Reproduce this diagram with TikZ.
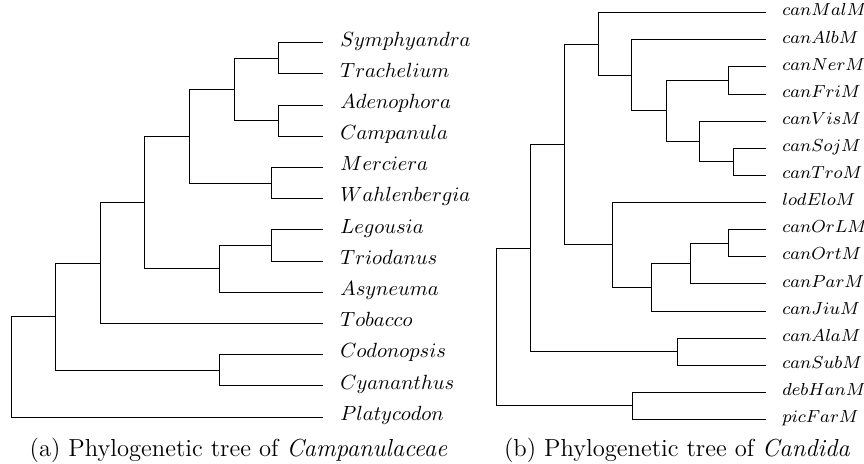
\documentclass[tikz,border=0pt]{standalone}
\DeclareFontShape{OML}{cmm}{m}{it}{<-9>cmmi8 <9-10>cmmi9 <10-12>cmmi10 <12->cmmi12}{}
\begin{document}
\begin{tikzpicture}[x=0.4873pt, y=-0.4873pt,
        leaf/.style={anchor=west, inner xsep=8.3pt, inner ysep=0pt, text height=1ex, text depth=.25ex},
        smallleaf/.style={leaf, inner xsep=7.6pt, font=\fontsize{8.5}{10}\selectfont},
        caption/.style={font=\large, inner sep=0pt}]
        \useasboundingbox (0, 0) rectangle (864, 464);

        % (a) Campanulaceae
        \foreach \nm/\lab [count=\i] in {sym/Symphyandra, tra/Trachelium, ade/Adenophora, cam/Campanula,
                mer/Merciera, wah/Wahlenbergia, leg/Legousia, tri/Triodanus, asy/Asyneuma, tob/Tobacco,
                cod/Codonopsis, cya/Cyananthus, pla/Platycodon}
            \node[leaf] (\nm) at (323, {42.7 + 31.19*(\i-1)}) {$\lab$};

        \coordinate (st) at (278.7, 58.3);
        \coordinate (ac) at (278.7, 120.7);
        \coordinate (stac) at (234.3, 89.5);
        \coordinate (mw) at (271.3, 183.1);
        \coordinate (a1) at (189.7, 136.3);
        \coordinate (lt) at (271.3, 245.4);
        \coordinate (lta) at (219.3, 268.8);
        \coordinate (a2) at (144.7, 202.6);
        \coordinate (a3) at (100.3, 263.0);
        \coordinate (cc) at (219.3, 370.2);
        \coordinate (a4) at (55.7, 316.6);
        \coordinate (roota) at (11.3, 366.8);

        \foreach \p/\c in {st/sym, st/tra, ac/ade, ac/cam, stac/st, stac/ac, mw/mer, mw/wah, a1/stac, a1/mw,
                lt/leg, lt/tri, lta/lt, lta/asy, a2/a1, a2/lta, a3/a2, a3/tob, cc/cod, cc/cya,
                a4/a3, a4/cc, roota/a4, roota/pla}
            \draw (\p) |- (\c);

        \node[caption] (capa) at (238.5, 450) {(a) Phylogenetic tree of \textit{Campanulaceae}};

        % (b) Candida
        \foreach \nm/\lab [count=\i] in {mal/canMalM, alb/canAlbM, ner/canNerM, fri/canFriM, vis/canVisM,
                soj/canSojM, tro/canTroM, lod/lodEloM, orl/canOrLM, ort/canOrtM, par/canParM, jiu/canJiuM,
                ala/canAlaM, sub/canSubM, deb/debHanM, pic/picFarM}
            \node[smallleaf] (\nm) at (766.3, {12.6 + 27.12*(\i-1)}) {$\lab$};

        \coordinate (nf) at (728.7, 80.4);
        \coordinate (stro) at (733.7, 161.8);
        \coordinate (vst) at (699.7, 141.5);
        \coordinate (nfv) at (666.3, 110.9);
        \coordinate (albn) at (631.7, 75.3);
        \coordinate (maln) at (598, 44.0);
        \coordinate (oo) at (728.7, 243.1);
        \coordinate (oop) at (690, 263.5);
        \coordinate (oopj) at (651.3, 287.2);
        \coordinate (lodn) at (612.7, 244.8);
        \coordinate (top) at (564.3, 144.4);
        \coordinate (as) at (677.3, 351.6);
        \coordinate (b1) at (530, 248.0);
        \coordinate (dp) at (632, 405.9);
        \coordinate (rootb) at (496.3, 327.0);

        \foreach \p/\c in {nf/ner, nf/fri, stro/soj, stro/tro, vst/vis, vst/stro, nfv/nf, nfv/vst,
                albn/alb, albn/nfv, maln/mal, maln/albn, oo/orl, oo/ort, oop/oo, oop/par, oopj/oop, oopj/jiu,
                lodn/lod, lodn/oopj, top/maln, top/lodn, as/ala, as/sub, b1/top, b1/as,
                dp/deb, dp/pic, rootb/b1, rootb/dp}
            \draw (\p) |- (\c);

        \node[caption] (capb) at (677, 450) {(b) Phylogenetic tree of \textit{Candida}};
\end{tikzpicture}
\end{document}
